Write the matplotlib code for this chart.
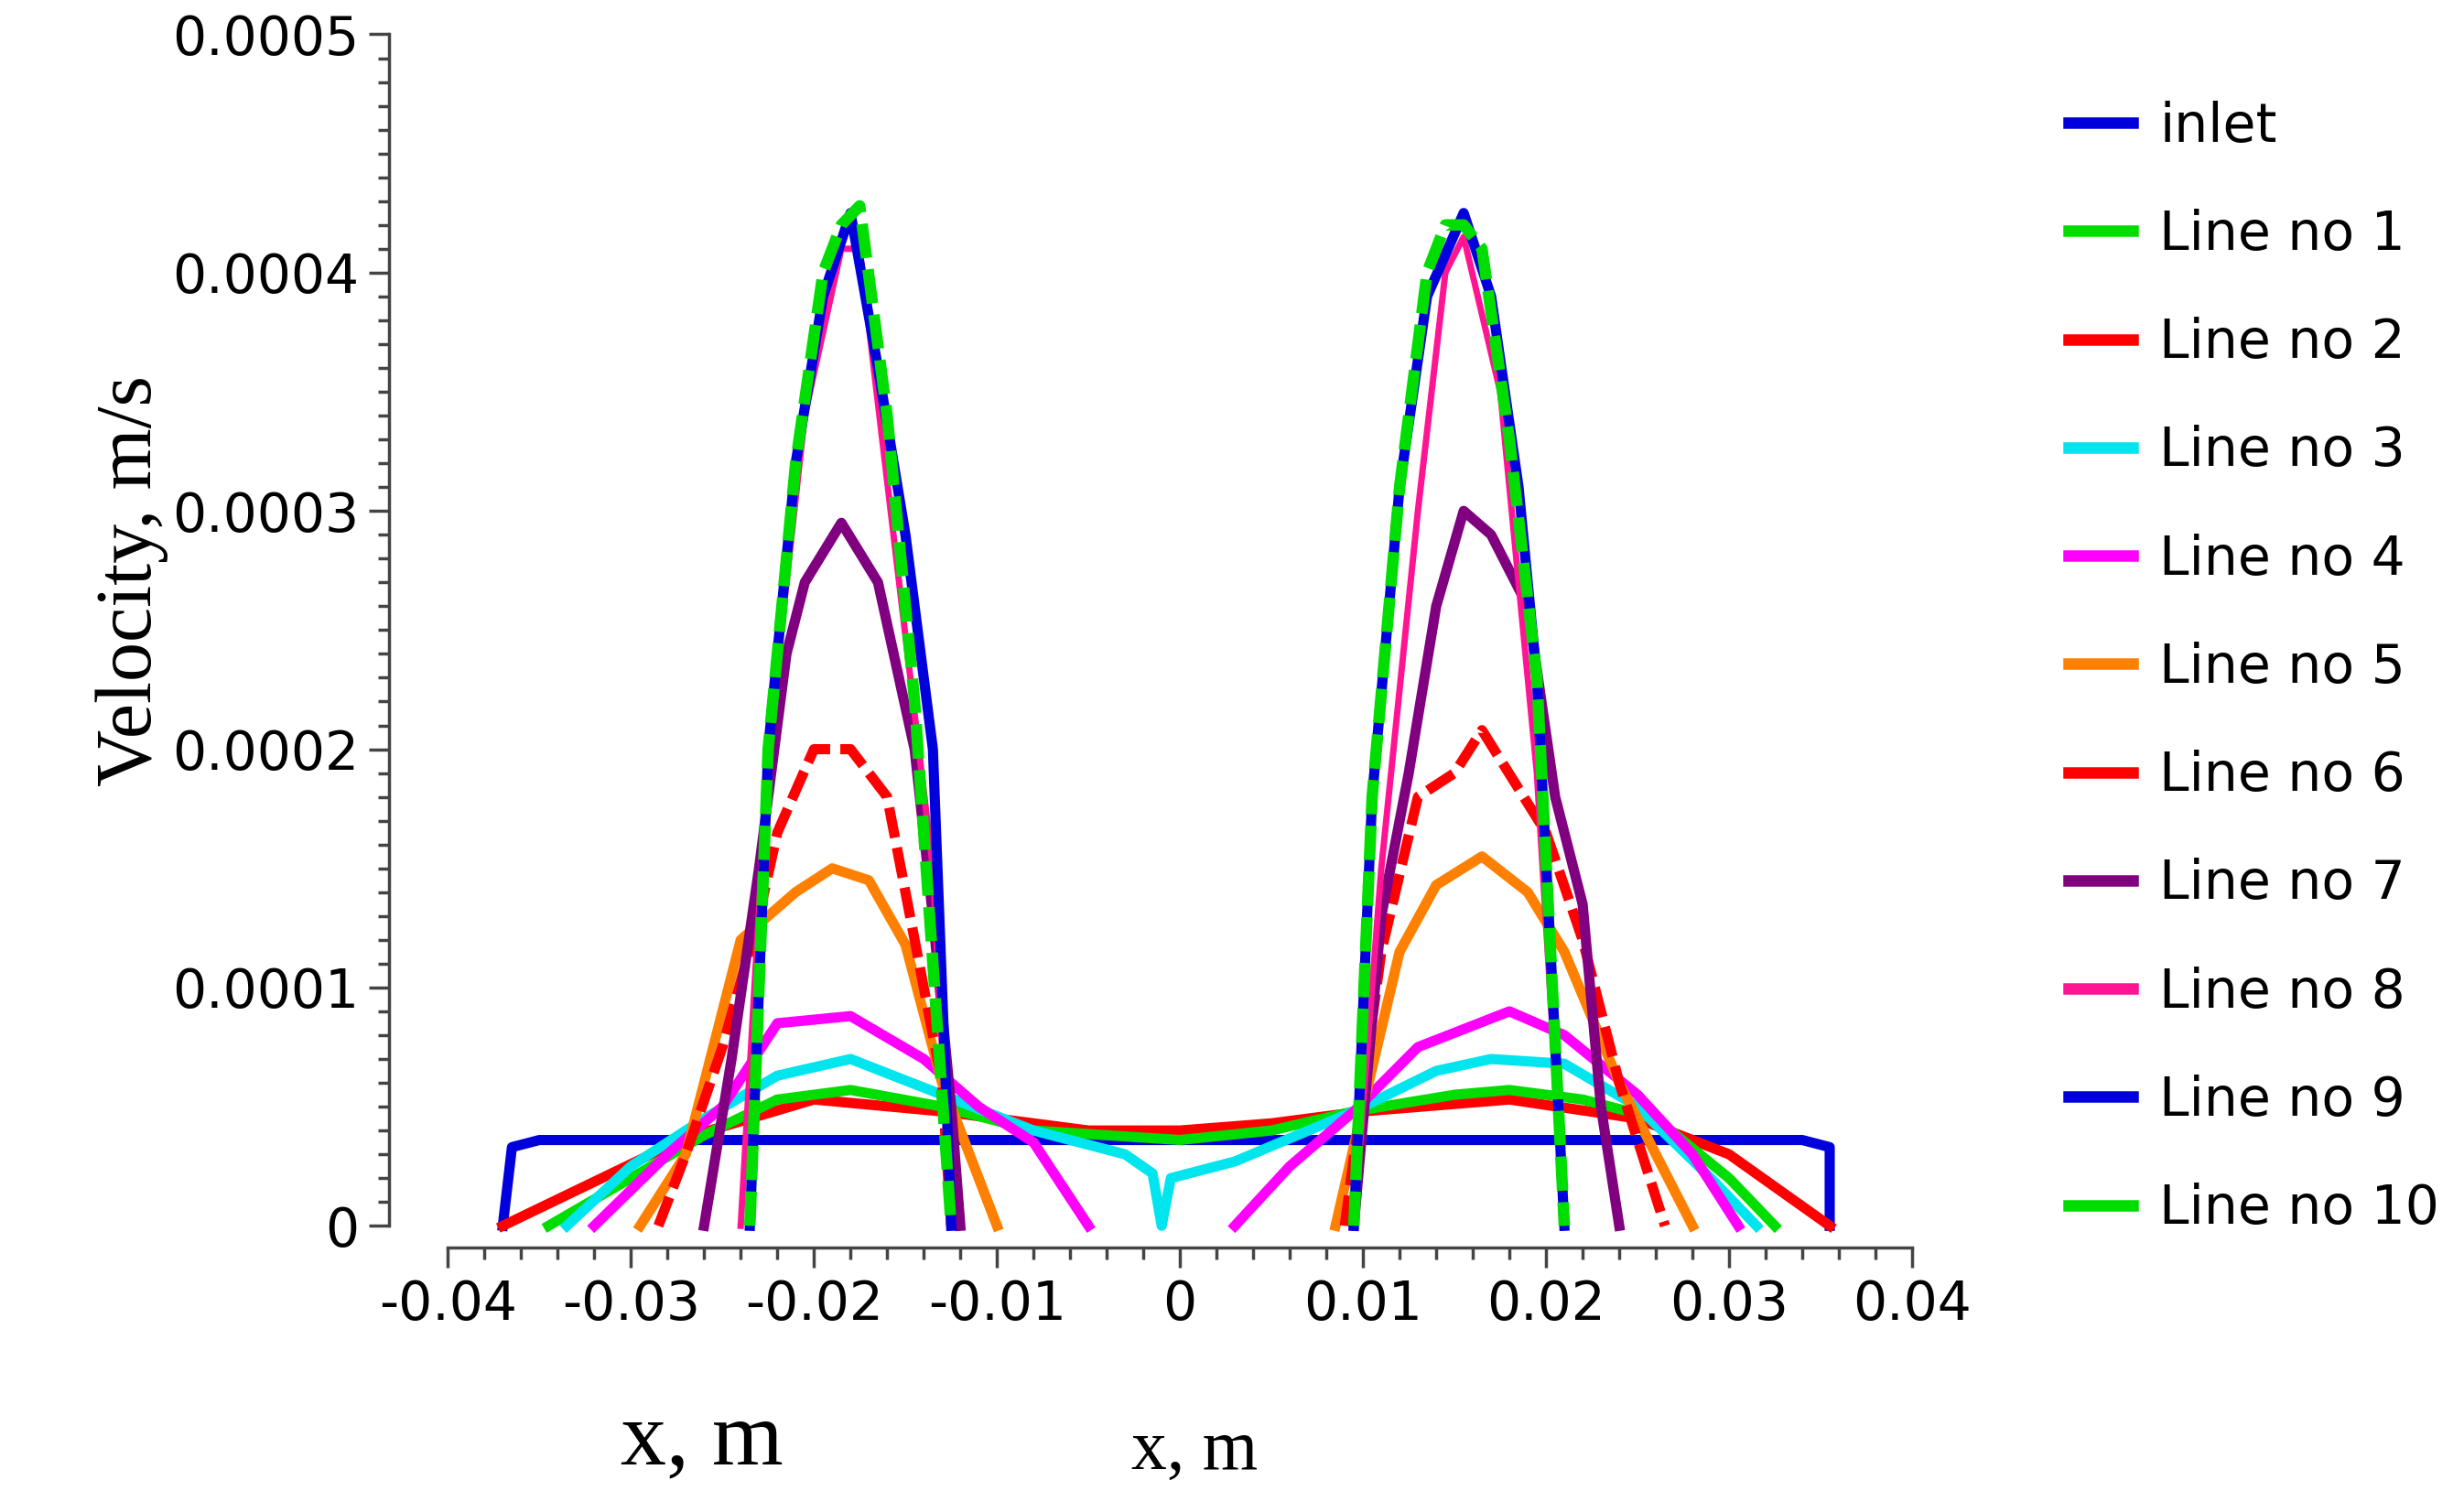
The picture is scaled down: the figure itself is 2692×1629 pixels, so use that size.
import matplotlib
matplotlib.use("Agg")
import matplotlib.pyplot as plt
import numpy as np
from matplotlib.ticker import MultipleLocator, FixedLocator

# === Data ===
inlet_x = [-0.037, -0.0365, -0.035, 0.0, 0.034, 0.0355, 0.0355]
inlet_y = [0.0, 0.000033, 0.000036, 0.000036, 0.000036, 0.000033, 0.0]

line1_x = [-0.0345, -0.03, -0.026, -0.022, -0.018, -0.013, -0.008, 0.0, 0.005, 0.0095, 0.015, 0.018, 0.022, 0.026, 0.03, 0.0325]
line1_y = [0.0, 0.00002, 0.000038, 0.000053, 0.000057, 0.00005, 0.00004, 0.000036, 0.00004, 0.000048, 0.000055, 0.000057, 0.000053, 0.000045, 0.00002, 0.0]

line2_x = [-0.037, -0.027, -0.02, -0.013, -0.005, 0.0, 0.005, 0.01, 0.018, 0.025, 0.03, 0.0355]
line2_y = [0.0, 0.000037, 0.000053, 0.000048, 0.00004, 0.00004, 0.000043, 0.000048, 0.000053, 0.000045, 0.00003, 0.0]

line3_x = [-0.0335, -0.03, -0.026, -0.022, -0.018, -0.013, -0.008, -0.003, -0.0015, -0.001, -0.0005, 0.003, 0.0095, 0.014, 0.017, 0.021, 0.025, 0.029, 0.0315]
line3_y = [0.0, 0.000025, 0.000045, 0.000063, 0.00007, 0.000055, 0.00004, 0.00003, 0.000022, 0.0, 0.00002, 0.000027, 0.000048, 0.000065, 0.00007, 0.000068, 0.00005, 0.00002, 0.0]

line4_left_x = [-0.032, -0.028, -0.025, -0.022, -0.018, -0.014, -0.011, -0.008, -0.005]
line4_left_y = [0.0, 0.00003, 0.00005, 0.000085, 0.000088, 0.00007, 0.00005, 0.000035, 0.0]
line4_right_x = [0.003, 0.006, 0.0095, 0.013, 0.018, 0.021, 0.025, 0.028, 0.0305]
line4_right_y = [0.0, 0.000025, 0.000048, 0.000075, 0.00009, 0.00008, 0.000055, 0.00003, 0.0]

line5_left_x = [-0.0295, -0.027, -0.024, -0.021, -0.019, -0.017, -0.015, -0.013, -0.0115, -0.01]
line5_left_y = [0.0, 0.00003, 0.00012, 0.00014, 0.00015, 0.000145, 0.000118, 0.00006, 0.00003, 0.0]
line5_right_x = [0.0085, 0.01, 0.012, 0.014, 0.0165, 0.019, 0.021, 0.024, 0.026, 0.028]
line5_right_y = [0.0, 0.00005, 0.000115, 0.000143, 0.000155, 0.00014, 0.000115, 0.00006, 0.00003, 0.0]

line6_left_x = [-0.0285, -0.027, -0.025, -0.023, -0.022, -0.02, -0.018, -0.016, -0.0145, -0.013, -0.0125]
line6_left_y = [0.0, 0.00003, 0.000075, 0.00013, 0.000165, 0.0002, 0.0002, 0.00018, 0.00012, 0.00006, 0.0]
line6_right_x = [0.009, 0.011, 0.013, 0.015, 0.0165, 0.02, 0.022, 0.024, 0.0265]
line6_right_y = [0.0, 0.000115, 0.00018, 0.00019, 0.000208, 0.000165, 0.00012, 0.00006, 0.0]

line7_left_x = [-0.026, -0.0245, -0.023, -0.0215, -0.0205, -0.0185, -0.0165, -0.0145, -0.0135, -0.0125, -0.012]
line7_left_y = [0.0, 0.00007, 0.00015, 0.00024, 0.00027, 0.000295, 0.00027, 0.0002, 0.00013, 0.00005, 0.0]
line7_right_x = [0.0095, 0.011, 0.0125, 0.014, 0.0155, 0.017, 0.019, 0.0205, 0.022, 0.023, 0.024]
line7_right_y = [0.0, 0.00013, 0.00019, 0.00026, 0.0003, 0.00029, 0.00026, 0.00018, 0.000135, 0.00005, 0.0]

line8_left_x = [-0.024, -0.0225, -0.0205, -0.0185, -0.0175, -0.0155, -0.0135, -0.0125]
line8_left_y = [0.0, 0.0002, 0.00034, 0.00041, 0.00041, 0.00028, 0.00015, 0.0]
line8_right_x = [0.0095, 0.011, 0.013, 0.0145, 0.0155, 0.0175, 0.0195, 0.021]
line8_right_y = [0.0, 0.00015, 0.0003, 0.0004, 0.000415, 0.00035, 0.00019, 0.0]

line9_left_x = [-0.0235, -0.0225, -0.021, -0.0195, -0.018, -0.0165, -0.015, -0.0135, -0.0125]
line9_left_y = [0.0, 0.0002, 0.00032, 0.00039, 0.000425, 0.00036, 0.00029, 0.0002, 0.0]
line9_right_x = [0.0095, 0.0105, 0.012, 0.0135, 0.0155, 0.017, 0.0185, 0.0195, 0.021]
line9_right_y = [0.0, 0.00018, 0.00031, 0.00039, 0.000425, 0.00039, 0.00031, 0.00023, 0.0]

line10_left_x = [-0.0235, -0.0225, -0.021, -0.0195, -0.0185, -0.0175, -0.016, -0.0145, -0.0125]
line10_left_y = [0.0, 0.0002, 0.00032, 0.0004, 0.00042, 0.000428, 0.00034, 0.00022, 0.0]
line10_right_x = [0.0095, 0.0105, 0.012, 0.0135, 0.0145, 0.0155, 0.0165, 0.018, 0.0195, 0.021]
line10_right_y = [0.0, 0.00018, 0.00031, 0.0004, 0.00042, 0.00042, 0.00041, 0.00033, 0.00023, 0.0]

y_ticks = [0, 0.0001, 0.0002, 0.0003, 0.0004, 0.0005]
y_tick_labels = ["0", "0.0001", "0.0002", "0.0003", "0.0004", "0.0005"]
x_ticks = [-0.04, -0.03, -0.02, -0.01, 0, 0.01, 0.02, 0.03, 0.04]
x_tick_labels = ["-0.04", "-0.03", "-0.02", "-0.01", "0", "0.01", "0.02", "0.03", "0.04"]

# === Plot ===
fig = plt.figure(figsize=(26.92, 16.29), dpi=100)
ax = fig.add_axes([0.158, 0.163, 0.618, 0.814])

lw = 8
ax.plot(inlet_x, inlet_y, color="#0000dd", lw=lw)
ax.plot(line2_x, line2_y, color="#ff0000", lw=lw)
ax.plot(line1_x, line1_y, color="#00dd00", lw=lw)
ax.plot(line3_x, line3_y, color="#00e5ee", lw=lw)
ax.plot(line4_left_x, line4_left_y, color="#ff00ff", lw=lw)
ax.plot(line4_right_x, line4_right_y, color="#ff00ff", lw=lw)
ax.plot(line5_left_x, line5_left_y, color="#ff8000", lw=lw)
ax.plot(line5_right_x, line5_right_y, color="#ff8000", lw=lw)
ax.plot(line6_left_x, line6_left_y, color="#ff0000", lw=lw, ls=(0, (3, 1)))
ax.plot(line6_right_x, line6_right_y, color="#ff0000", lw=lw, ls=(0, (3, 1)))
ax.plot(line7_left_x, line7_left_y, color="#800080", lw=lw)
ax.plot(line7_right_x, line7_right_y, color="#800080", lw=lw)
ax.plot(line8_left_x, line8_left_y, color="#ff1493", lw=5)
ax.plot(line8_right_x, line8_right_y, color="#ff1493", lw=5)
ax.plot(line9_left_x, line9_left_y, color="#0000dd", lw=lw)
ax.plot(line9_right_x, line9_right_y, color="#0000dd", lw=lw)
ax.plot(line10_left_x, line10_left_y, color="#00dd00", lw=9, ls=(0, (3, 1)))
ax.plot(line10_right_x, line10_right_y, color="#00dd00", lw=9, ls=(0, (3, 1)))

ax.set_xlim(-0.0432, 0.04)
ax.set_ylim(-0.0000093, 0.0005)
for s in ["top", "right"]:
    ax.spines[s].set_visible(False)
ax.spines["left"].set_bounds(0, 0.0005)
ax.spines["bottom"].set_bounds(-0.04, 0.04)
for s in ["left", "bottom"]:
    ax.spines[s].set_color("#444444")
    ax.spines[s].set_linewidth(2.5)

ax.yaxis.set_major_locator(FixedLocator(y_ticks))
ax.set_yticklabels(y_tick_labels)
ax.yaxis.set_minor_locator(MultipleLocator(0.00001))
ax.xaxis.set_major_locator(FixedLocator(x_ticks))
ax.set_xticklabels(x_tick_labels)
ax.xaxis.set_minor_locator(FixedLocator(np.arange(-0.04, 0.0401, 0.002)))
ax.tick_params(which="major", length=16, width=2.5, color="#444444", labelsize=42, pad=8)
ax.tick_params(which="minor", length=9, width=2.5, color="#444444")

ax.set_ylabel("Velocity, m/s", family="Liberation Serif", fontsize=62, labelpad=30)
ax.yaxis.set_label_coords(-0.145, 0.55)

fig.text(0.285, 0.018, "x, m", family="Liberation Serif", fontsize=72, ha="center")
fig.text(0.485, 0.015, "x, m", family="Liberation Serif", fontsize=56, ha="center")

# legend
leg_colors = ["#0000dd", "#00dd00", "#ff0000", "#00e5ee", "#ff00ff", "#ff8000",
              "#ff0000", "#800080", "#ff1493", "#0000dd", "#00dd00"]
leg_labels = ["inlet"] + [f"Line no {i}" for i in range(1, 11)]
handles = [plt.Line2D([], [], color=c, lw=9) for c in leg_colors]
fig.legend(handles, leg_labels, loc="upper left", bbox_to_anchor=(0.82, 0.965),
           frameon=False, fontsize=42, handlelength=1.2, labelspacing=1.05,
           handletextpad=0.5)

plt.savefig("out.png", dpi=100)
plt.close()
